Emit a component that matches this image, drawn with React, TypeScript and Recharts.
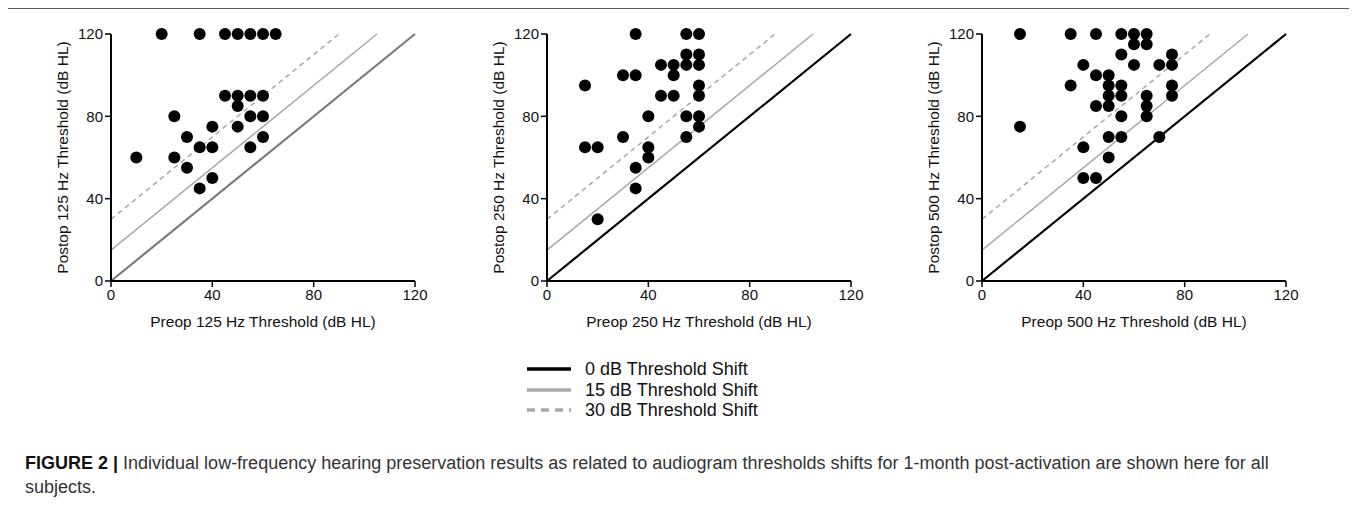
import { ScatterChart, Scatter, XAxis, YAxis, ReferenceLine } from "recharts";

// axis + threshold shift settings
const axisTicks = [0, 40, 80, 120];
const shifts = [0, 15, 30];
const shiftLabels = ["0 dB Threshold Shift", "15 dB Threshold Shift", "30 dB Threshold Shift"];

// 125 Hz
const pre125 = [10, 20, 25, 25, 30, 30, 35, 35, 35, 40, 40, 40, 45, 45, 50, 50, 50, 50, 55, 55, 55, 55, 60, 60, 60, 60, 65];
const post125 = [60, 120, 80, 60, 70, 55, 120, 65, 45, 75, 65, 50, 120, 90, 120, 90, 85, 75, 120, 90, 80, 65, 120, 90, 80, 70, 120];

// 250 Hz
const pre250 = [15, 15, 20, 20, 30, 30, 35, 35, 35, 35, 40, 40, 40, 45, 45, 50, 50, 50, 55, 55, 55, 55, 55, 60, 60, 60, 60, 60, 60, 60];
const post250 = [95, 65, 65, 30, 100, 70, 120, 100, 55, 45, 80, 65, 60, 105, 90, 105, 100, 90, 120, 110, 105, 80, 70, 120, 110, 105, 95, 90, 80, 75];

// 500 Hz
const pre500 = [15, 15, 35, 35, 40, 40, 40, 45, 45, 45, 45, 50, 50, 50, 50, 50, 50, 55, 55, 55, 55, 55, 55, 60, 60, 60, 65, 65, 65, 65, 65, 70, 70, 75, 75, 75, 75];
const post500 = [120, 75, 120, 95, 105, 65, 50, 120, 100, 85, 50, 100, 95, 90, 85, 70, 60, 120, 110, 95, 90, 80, 70, 120, 115, 105, 120, 115, 90, 85, 80, 105, 70, 110, 105, 95, 90];

const frequencies = ["125", "250", "500"];

const FONT = "'Liberation Sans', Arial, sans-serif";
const MAX = 120;

const shiftStyles = [
  { stroke: "#000", width: 2.2, dash: undefined as string | undefined },
  { stroke: "#a8a8a8", width: 1.5, dash: undefined as string | undefined },
  { stroke: "#a8a8a8", width: 1.5, dash: "5 4" },
];

function Dot(props: any) {
  if (props.cx == null || props.cy == null) return null;
  return <circle cx={props.cx} cy={props.cy} r={6} fill="#000" />;
}

interface PanelProps {
  freq: string;
  pre: number[];
  post: number[];
  left: number;
  zeroColor: string;
}

function Panel({ freq, pre, post, left, zeroColor }: PanelProps) {
  const data = pre.map((x, i) => ({ x, y: post[i] }));
  const tickStyle = { fontSize: 15, fill: "#111", fontFamily: FONT };
  const titleStyle = { fontSize: 15.5, fill: "#111", fontFamily: FONT };

  return (
    <div style={{ position: "absolute", left, top: 0 }}>
      <ScatterChart width={400} height={341} margin={{ top: 34, right: 15, left: 0, bottom: 0 }}>
        <XAxis
          type="number"
          dataKey="x"
          domain={[0, MAX]}
          ticks={axisTicks}
          height={60}
          tickSize={6}
          tick={tickStyle}
          axisLine={{ stroke: "#000", strokeWidth: 2 }}
          tickLine={{ stroke: "#000", strokeWidth: 1.5 }}
          label={{
            value: `Preop ${freq} Hz Threshold (dB HL)`,
            position: "insideBottom",
            offset: 14,
            style: titleStyle,
          }}
        />
        <YAxis
          type="number"
          dataKey="y"
          domain={[0, MAX]}
          ticks={axisTicks}
          width={81}
          tickSize={6}
          tick={tickStyle}
          axisLine={{ stroke: "#000", strokeWidth: 2 }}
          tickLine={{ stroke: "#000", strokeWidth: 1.5 }}
          label={{
            value: `Postop ${freq} Hz Threshold (dB HL)`,
            angle: -90,
            position: "insideLeft",
            offset: 32,
            style: { ...titleStyle, textAnchor: "middle" },
          }}
        />
        {shifts.map((s, i) => (
          <ReferenceLine
            key={s}
            segment={[
              { x: 0, y: s },
              { x: MAX - s, y: MAX },
            ]}
            stroke={i === 0 ? zeroColor : shiftStyles[i].stroke}
            strokeWidth={shiftStyles[i].width}
            strokeDasharray={shiftStyles[i].dash}
          />
        ))}
        <Scatter data={data} fill="#000" shape={<Dot />} isAnimationActive={false} />
      </ScatterChart>
    </div>
  );
}

export default function App() {
  const sets = [
    { pre: pre125, post: post125, left: 30, zero: "#7a7a7a" },
    { pre: pre250, post: post250, left: 466, zero: "#000" },
    { pre: pre500, post: post500, left: 901, zero: "#000" },
  ];

  return (
    <div
      style={{
        position: "relative",
        margin: -8,
        width: 1357,
        height: 507,
        overflow: "hidden",
        background: "#fff",
        fontFamily: FONT,
      }}
    >
      <div
        style={{
          position: "absolute",
          left: 7,
          top: 8,
          width: 1349,
          height: 600,
          boxSizing: "border-box",
          border: "1.5px solid #5a5a5a",
        }}
      />
      {sets.map((s, i) => (
        <Panel key={frequencies[i]} freq={frequencies[i]} pre={s.pre} post={s.post} left={s.left} zeroColor={s.zero} />
      ))}

      {/* shared legend */}
      <div style={{ position: "absolute", left: 527, top: 359 }}>
        {shiftLabels.map((label, i) => (
          <div key={label} style={{ display: "flex", alignItems: "center", height: 20.5 }}>
            <svg width={44} height={8} style={{ marginRight: 14 }}>
              <line
                x1={0}
                x2={44}
                y1={4}
                y2={4}
                stroke={i === 0 ? "#000" : "#a8a8a8"}
                strokeWidth={3.5}
                strokeDasharray={i === 2 ? "8 6" : undefined}
              />
            </svg>
            <span style={{ fontSize: 18, color: "#111", lineHeight: "20px" }}>{label}</span>
          </div>
        ))}
      </div>

      <div
        style={{
          position: "absolute",
          left: 25,
          top: 451,
          fontSize: 18,
          lineHeight: "24px",
          color: "#333",
          whiteSpace: "nowrap",
        }}
      >
        <b style={{ color: "#111" }}>FIGURE 2 |</b> Individual low-frequency hearing preservation results as related to
        audiogram thresholds shifts for 1-month post-activation are shown here for all
        <br />
        subjects.
      </div>
    </div>
  );
}
